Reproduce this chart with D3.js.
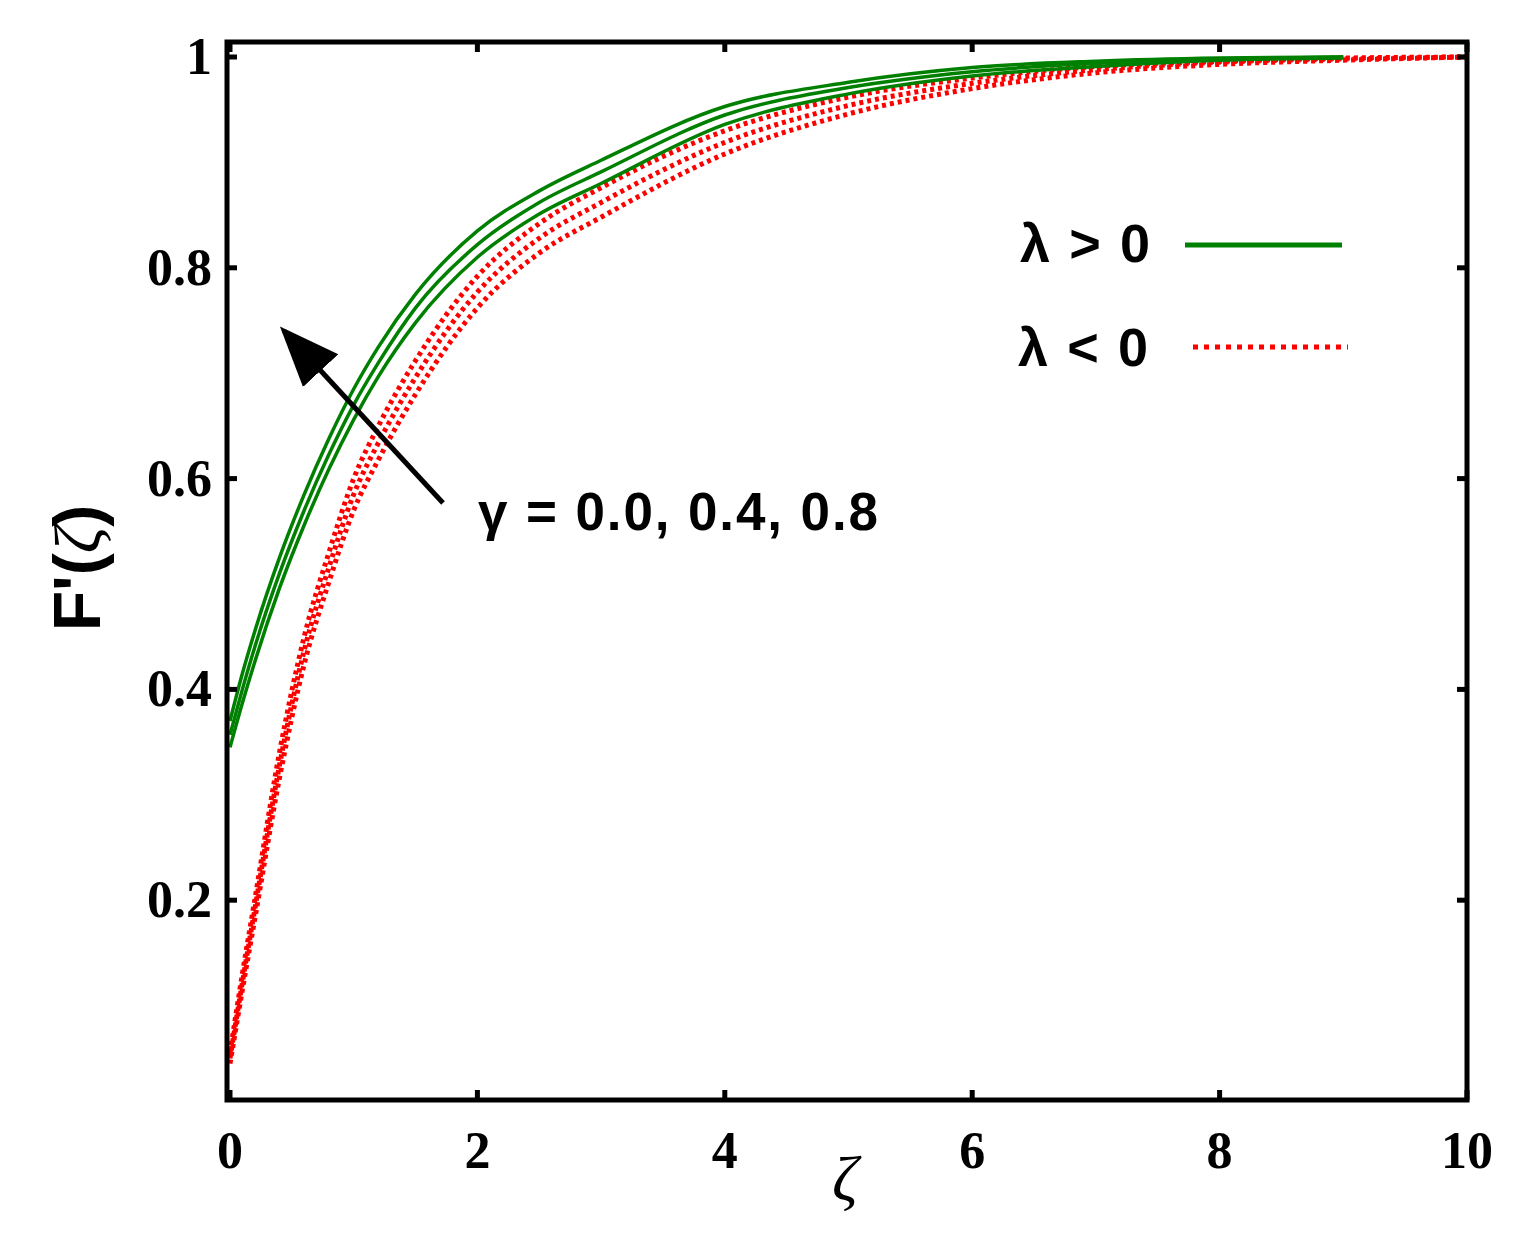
<!DOCTYPE html>
<html><head><meta charset="utf-8">
<script src="https://cdn.jsdelivr.net/npm/d3@7"></script>
<style>body{margin:0;background:#fff}</style></head>
<body><svg id="c" width="1538" height="1233"></svg>
<script>
const zeta = [0,0.1,0.2,0.4,0.6,0.8,1.0,1.2,1.5,2,2.5,3,4,5,6,7,8,9,10];
const green1 = [0.370,0.415,0.455,0.525,0.585,0.638,0.685,0.725,0.775,0.835,0.873,0.902,0.953,0.976,0.990,0.996,0.999,1.0,1.0];
const green2 = [0.357,0.400,0.440,0.510,0.570,0.623,0.670,0.710,0.762,0.822,0.862,0.891,0.945,0.971,0.986,0.994,0.998,1.0,1.0];
const green3 = [0.345,0.387,0.426,0.496,0.556,0.609,0.656,0.697,0.748,0.810,0.851,0.880,0.936,0.965,0.982,0.991,0.997,0.999,1.0];
const red1 = [0.055,0.130,0.200,0.340,0.450,0.530,0.600,0.650,0.712,0.792,0.842,0.876,0.930,0.962,0.980,0.991,0.996,0.999,1.0];
const red2 = [0.050,0.122,0.191,0.328,0.437,0.516,0.585,0.634,0.696,0.777,0.828,0.862,0.919,0.954,0.975,0.988,0.995,0.998,1.0];
const red3 = [0.045,0.115,0.182,0.316,0.424,0.502,0.570,0.618,0.680,0.762,0.814,0.848,0.908,0.946,0.970,0.985,0.993,0.997,1.0];
const xTicks = [0,2,4,6,8,10];
const yTicks = [0.2,0.4,0.6,0.8,1];
const legendLabels = ["λ > 0","λ < 0"];

const svg = d3.select("#c");
const x = d3.scaleLinear().domain([0,10]).range([230,1467]);
const y = d3.scaleLinear().domain([0,1]).range([1111,57]);
const L=227,R=1467,T=42,B=1100;
const line = d3.line().x((d,i)=>x(zeta[i])).y(d=>y(d)).curve(d3.curveMonotoneX);
svg.append("clipPath").attr("id","cp").append("rect").attr("x",L).attr("y",T).attr("width",R-L).attr("height",B-T);
const g = svg.append("g").attr("clip-path","url(#cp)");
[red1,red2,red3].forEach(s=>g.append("path").attr("d",line(s)).attr("fill","none").attr("stroke","#ff0000").attr("stroke-width",5).attr("stroke-dasharray","4,4"));
const gline = d3.line().defined((d,i)=>zeta[i]<=9).x((d,i)=>x(zeta[i])).y(d=>y(d)).curve(d3.curveMonotoneX);
[green1,green2,green3].forEach(s=>g.append("path").attr("d",gline(s)).attr("fill","none").attr("stroke","#008000").attr("stroke-width",3.5));

svg.append("rect").attr("x",L).attr("y",T).attr("width",R-L).attr("height",B-T).attr("fill","none").attr("stroke","#000").attr("stroke-width",5);
xTicks.forEach(t=>{
  svg.append("line").attr("x1",x(t)).attr("x2",x(t)).attr("y1",B).attr("y2",B-10).attr("stroke","#000").attr("stroke-width",5);
  svg.append("line").attr("x1",x(t)).attr("x2",x(t)).attr("y1",T).attr("y2",T+10).attr("stroke","#000").attr("stroke-width",5);
  svg.append("text").attr("x",x(t)).attr("y",1168).attr("text-anchor","middle").attr("font-family","Liberation Serif").attr("font-weight","bold").attr("font-size",52).text(t);
});
yTicks.forEach(t=>{
  svg.append("line").attr("x1",L).attr("x2",L+10).attr("y1",y(t)).attr("y2",y(t)).attr("stroke","#000").attr("stroke-width",5);
  svg.append("line").attr("x1",R).attr("x2",R-10).attr("y1",y(t)).attr("y2",y(t)).attr("stroke","#000").attr("stroke-width",5);
  svg.append("text").attr("x",212).attr("y",y(t)+17).attr("text-anchor","end").attr("font-family","Liberation Serif").attr("font-weight","bold").attr("font-size",52).text(t);
});
svg.append("text").attr("transform","translate(100,568) rotate(-90)").attr("text-anchor","middle").attr("font-family","Liberation Sans").attr("font-weight","bold").attr("font-size",66).html("F'(<tspan font-family='Liberation Serif' font-style='italic' font-weight='normal'>ζ</tspan>)");
svg.append("text").attr("x",845).attr("y",1200).attr("text-anchor","middle").attr("font-family","Liberation Serif").attr("font-style","italic").attr("font-size",64).text("ζ");

svg.append("defs").append("marker").attr("id","ah").attr("viewBox","0 0 10 10").attr("refX",9).attr("refY",5).attr("markerUnits","userSpaceOnUse").attr("orient","auto")
  .attr("markerWidth",60).attr("markerHeight",60).append("path").attr("d","M0,1 L10,5 L0,9 Z").attr("fill","#000");
svg.append("line").attr("x1",443).attr("y1",503).attr("x2",284).attr("y2",331).attr("stroke","#000").attr("stroke-width",5).attr("marker-end","url(#ah)");
svg.append("text").attr("x",478).attr("y",530).attr("font-family","Liberation Sans").attr("font-weight","bold").attr("font-size",53).attr("textLength",400).text("γ = 0.0, 0.4, 0.8");

svg.append("text").attr("x",1020).attr("y",262).attr("font-family","Liberation Sans").attr("font-weight","bold").attr("font-size",54).attr("textLength",130).text(legendLabels[0]);
svg.append("text").attr("x",1018).attr("y",366).attr("font-family","Liberation Sans").attr("font-weight","bold").attr("font-size",54).attr("textLength",130).text(legendLabels[1]);
svg.append("line").attr("x1",1185).attr("x2",1342).attr("y1",245).attr("y2",245).attr("stroke","#008000").attr("stroke-width",5);
svg.append("line").attr("x1",1193).attr("x2",1348).attr("y1",347).attr("y2",347).attr("stroke","#ff0000").attr("stroke-width",5).attr("stroke-dasharray","5,6");
</script></body></html>
